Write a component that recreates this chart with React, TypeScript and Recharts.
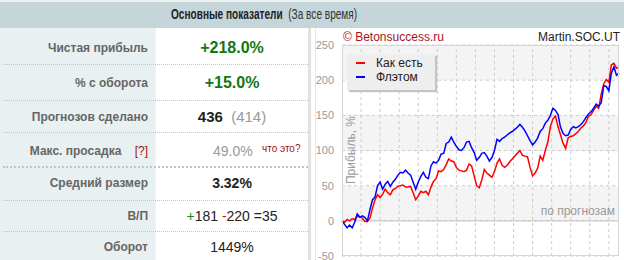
import { CartesianGrid, Legend, Line, LineChart, ReferenceLine, XAxis, YAxis } from "recharts";

// number of predictions (x)
const predictions = [
  0, 4, 8, 12, 16, 20, 24, 28, 32, 36,
  40, 44, 48, 52, 56, 60, 64, 68, 72, 76,
  80, 84, 88, 92, 96, 100, 104, 108, 112, 116,
  120, 124, 128, 132, 136, 140, 144, 148, 152, 156,
  160, 164, 168, 172, 176, 180, 184, 188, 192, 196,
  200, 204, 208, 212, 216, 220, 224, 228, 232, 236,
  240, 244, 248, 252, 256, 260, 264, 268, 272, 276,
  280, 284, 288, 292, 296, 300, 304, 308, 312, 316,
  320, 324, 328, 332, 336, 340, 344, 348, 352, 356,
  360, 364, 368, 372, 376, 380, 384, 388, 392, 396,
  400, 404, 408, 412, 416, 420, 424, 428, 432, 436,
];

// "Как есть", profit %
const asIsProfit = [
  0, -2, 2, 0, 3, 2, 6, 6, 4, -1,
  -1, 4, 18, 30, 37, 33, 38, 45, 40, 37,
  44, 46, 49, 50, 51, 48, 48, 49, 40, 30,
  35, 42, 40, 42, 37, 48, 56, 60, 71, 70,
  73, 80, 88, 85, 84, 76, 72, 71, 70, 72,
  81, 78, 64, 50, 47, 58, 73, 68, 65, 62,
  70, 82, 88, 79, 76, 79, 84, 88, 92, 96,
  100, 93, 92, 91, 76, 64, 68, 75, 92, 86,
  100, 112, 134, 145, 149, 134, 122, 110, 103, 118,
  120, 121, 124, 127, 132, 135, 140, 149, 151, 157,
  163, 160, 180, 195, 201, 197, 222, 224, 217, 218,
];

// "Флэтом", profit %
const flatProfit = [
  0, -5, -10, -6, -10, -2, 10, 5, 7, 5,
  0, 16, 30, 34, 50, 55, 45, 52, 56, 49,
  55, 59, 65, 69, 68, 72, 68, 65, 55, 45,
  55, 63, 69, 62, 60, 78, 84, 82, 86, 95,
  96, 110, 112, 119, 112, 106, 101, 100, 104, 112,
  113, 104, 97, 86, 90, 96, 97, 92, 85, 90,
  100, 116, 113, 117, 119, 122, 125, 127, 130, 133,
  137, 133, 128, 121, 114, 108, 112, 118, 127, 131,
  139, 143, 150, 160, 157, 151, 133, 124, 121, 122,
  130, 134, 132, 134, 137, 141, 147, 152, 155, 160,
  166, 163, 168, 192, 191, 185, 210, 219, 207, 210,
];

const yTicks = [-50, 0, 50, 100, 150, 200, 250];
const xGridTicks = [30, 60, 90, 120, 150, 180, 210, 240, 270, 300, 330, 360, 390, 420];

const data = predictions.map((n, i) => ({ n, asIs: asIsProfit[i], flat: flatProfit[i] }));

const FONT = '"Liberation Sans", Arial, sans-serif';

const rowLabels = ["Чистая прибыль", "% с оборота", "Прогнозов сделано", "Макс. просадка", "Средний размер", "В/П", "Оборот"];
const rowCenters = [48, 83, 117, 151, 183, 216, 247];
const separators = [64, 100, 132, 166, 200, 231];

function ChartLegend({ payload }: any) {
  return (
    <div style={{
      width: 88, height: 36, background: "#eeeeee", boxShadow: "2px 2px 1px #c4c4c4",
      fontFamily: FONT, fontSize: 12, color: "#222", paddingTop: 2, boxSizing: "border-box",
    }}>
      {(payload || []).map((p: any) => (
        <div key={p.value} style={{ display: "flex", alignItems: "center", height: 14 }}>
          <span style={{ display: "inline-block", width: 9, height: 2, background: p.color, marginLeft: 9, marginRight: 11 }} />
          <span>{p.value}</span>
        </div>
      ))}
    </div>
  );
}

function Value({ y, children }: { y: number; children: any }) {
  return (
    <div style={{ position: "absolute", left: 155, width: 154, top: y - 10, height: 20, lineHeight: "20px", textAlign: "center" }}>
      {children}
    </div>
  );
}

export default function App() {
  return (
    <div style={{ position: "absolute", left: 0, top: 0, width: 624, height: 260, overflow: "hidden", background: "#fff", fontFamily: FONT }}>
      {/* header */}
      <div style={{ position: "absolute", left: 0, top: 0, width: 624, height: 2, background: "#eef1f2" }} />
      <div style={{ position: "absolute", left: 0, top: 2, width: 624, height: 26, background: "#c4d6da" }} />
      <div style={{ position: "absolute", left: 171, top: 6, fontSize: 14, color: "#222", whiteSpace: "nowrap",
                    transform: "scaleX(0.72)", transformOrigin: "0 0" }}>
        <b>Основные показатели</b>
        <span style={{ color: "#333" }}>&nbsp; (За все время)</span>
      </div>

      {/* table */}
      <div style={{ position: "absolute", left: 0, top: 28, width: 155, height: 232, background: "#e8f0f1" }} />
      <div style={{ position: "absolute", left: 155, top: 28, width: 1, height: 232, background: "#f4f4f4" }} />
      <div style={{ position: "absolute", left: 308, top: 28, width: 3, height: 232, background: "#e2e2e2" }} />
      <div style={{ position: "absolute", left: 315, top: 28, width: 1, height: 232, background: "#e6e6e6" }} />
      {separators.map((y, i) => (
        <div key={y} style={{ position: "absolute", left: 3, top: y, width: 305, borderTop: `${i === 3 ? 2 : 1}px dotted #c4c4c4` }} />
      ))}
      {rowLabels.map((label, i) => (
        <div key={label} style={{ position: "absolute", left: 0, width: 148, top: rowCenters[i] - 10, height: 20, lineHeight: "20px", textAlign: "right", fontSize: 12, color: "#666", fontWeight: 700 }}>
          {label}
          {i === 3 && <span style={{ color: "#a01010", fontWeight: 400 }}>&nbsp;&nbsp;&nbsp;&nbsp;[?]</span>}
        </div>
      ))}
      <Value y={rowCenters[0]}><span style={{ color: "#117711", fontWeight: 700, fontSize: 16 }}>+218.0%</span></Value>
      <Value y={rowCenters[1]}><span style={{ color: "#117711", fontWeight: 700, fontSize: 16 }}>+15.0%</span></Value>
      <Value y={rowCenters[2]}>
        <span style={{ color: "#222", fontWeight: 700, fontSize: 15 }}>436</span>
        <span style={{ color: "#999", fontSize: 15 }}>&nbsp; (414)</span>
      </Value>
      <div style={{ position: "absolute", left: 213, top: rowCenters[3] - 10, lineHeight: "20px", fontSize: 14, color: "#999" }}>49.0%</div>
      <div style={{ position: "absolute", left: 262, top: rowCenters[3] - 12, lineHeight: "20px", fontSize: 10, color: "#a01010" }}>что это?</div>
      <Value y={rowCenters[4]}><span style={{ color: "#222", fontWeight: 700, fontSize: 14 }}>3.32%</span></Value>
      <Value y={rowCenters[5]}>
        <span style={{ fontSize: 14, color: "#222" }}>
          <span style={{ color: "#118811" }}>+</span>181 <span style={{ color: "#e01010" }}>-</span>220 =35
        </span>
      </Value>
      <Value y={rowCenters[6]}><span style={{ fontSize: 14, color: "#222" }}>1449%</span></Value>

      {/* chart panel */}
      <div style={{ position: "absolute", left: 314, top: 28 }}>
        <LineChart width={310} height={232} data={data} margin={{ top: 17, right: 5, bottom: 4, left: 0 }}>
          <CartesianGrid stroke="#cccccc" strokeDasharray="3 3" vertical={false} horizontalFill={["#f4f4f4", "#ffffff"]} fillOpacity={1} />
          <XAxis type="number" dataKey="n" domain={[0, 436]} ticks={xGridTicks} interval={0} height={0}
                 tick={false} axisLine={false} tickLine={false} />
          <YAxis type="number" domain={[-50, 250]} ticks={yTicks} width={28} axisLine={false} tickLine={false}
                 interval={0} tick={{ fill: "#9a9a9a", fontSize: 11, fontFamily: FONT }} />
          {xGridTicks.map((t) => (
            <ReferenceLine key={t} x={t} stroke="#cccccc" strokeDasharray="3 3" />
          ))}
          <ReferenceLine y={0} stroke="#c2c2c2" strokeWidth={1} />
          <Legend layout="vertical" align="center" verticalAlign="middle" content={<ChartLegend />}
                  wrapperStyle={{ left: 33, top: 26, width: 92 }} />
          <Line name="Как есть" dataKey="asIs" stroke="#ff0000" strokeWidth={1.5} dot={false} isAnimationActive={false} />
          <Line name="Флэтом" dataKey="flat" stroke="#0000ff" strokeWidth={1.5} dot={false} isAnimationActive={false} />
        </LineChart>
      </div>
      <div style={{ position: "absolute", left: 342, top: 45, width: 277, height: 211, border: "1px solid #d6d6d6", boxSizing: "border-box", pointerEvents: "none" }} />
      <div style={{ position: "absolute", left: 343, top: 30, fontSize: 12, color: "#a8141c", whiteSpace: "nowrap" }}>© Betonsuccess.ru</div>
      <div style={{ position: "absolute", right: 4, top: 30, fontSize: 12, color: "#222", whiteSpace: "nowrap" }}>Martin.SOC.UT</div>
      <div style={{ position: "absolute", left: 351, top: 150, fontSize: 12, color: "#9a9a9a", whiteSpace: "nowrap", transform: "translate(-50%, -50%) rotate(-90deg)" }}>Прибыль, %</div>
      <div style={{ position: "absolute", right: 9, top: 204, fontSize: 12, color: "#9a9a9a", whiteSpace: "nowrap" }}>по прогнозам</div>
    </div>
  );
}
